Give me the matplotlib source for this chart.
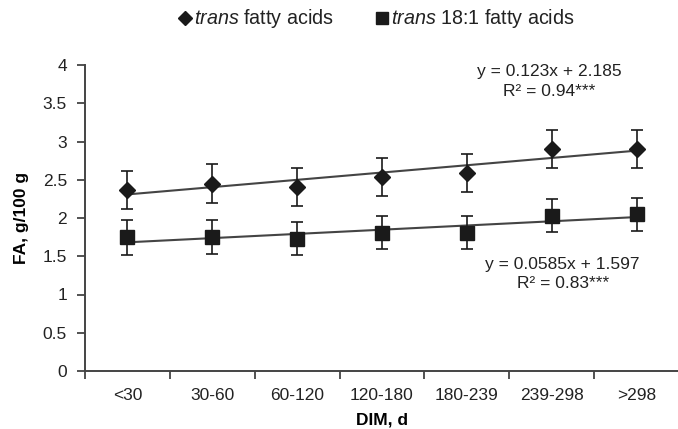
import numpy as np
import matplotlib
matplotlib.use("Agg")
import matplotlib.pyplot as plt
from matplotlib.lines import Line2D

plt.rcParams["font.family"] = ["Liberation Sans", "DejaVu Sans"]
plt.rcParams["mathtext.fontset"] = "custom"
plt.rcParams["mathtext.it"] = "Liberation Sans:italic"
plt.rcParams["mathtext.rm"] = "Liberation Sans"
plt.rcParams["text.color"] = "#222222"

# data
categories = ["<30", "30-60", "60-120", "120-180", "180-239", "239-298", ">298"]
trans_fa = [2.37, 2.45, 2.41, 2.54, 2.59, 2.90, 2.90]
trans_fa_err = [0.25, 0.26, 0.25, 0.25, 0.25, 0.245, 0.245]
trans181 = [1.75, 1.75, 1.73, 1.81, 1.81, 2.03, 2.05]
trans181_err = [0.23, 0.22, 0.22, 0.21, 0.21, 0.215, 0.215]

x = np.arange(1, len(categories) + 1)
fs = 12.5

fig = plt.figure(figsize=(6.78, 4.29), dpi=100)
ax = fig.add_axes([85 / 678, 58 / 429, 594 / 678, 306 / 429])

ax.errorbar(x, trans_fa, yerr=trans_fa_err, fmt="D", color="#1a1a1a", ms=8,
            capsize=4, elinewidth=1.2, capthick=1.2, zorder=3)
ax.errorbar(x, trans181, yerr=trans181_err, fmt="s", color="#1a1a1a", ms=10,
            capsize=4, elinewidth=1.2, capthick=1.2, zorder=3)

# linear trend lines
for ys in (trans_fa, trans181):
    k, b = np.polyfit(x, ys, 1)
    ax.plot(x, k * x + b, color="#444444", lw=1.5, zorder=2)

ax.text(5.97, 3.92, "y = 0.123x + 2.185", ha="center", va="center", fontsize=fs)
ax.text(5.97, 3.65, "R² = 0.94***", ha="center", va="center", fontsize=fs)
ax.text(6.13, 1.39, "y = 0.0585x + 1.597", ha="center", va="center", fontsize=fs)
ax.text(6.13, 1.15, "R² = 0.83***", ha="center", va="center", fontsize=fs)

ax.set_xlim(0.5, 7.5)
ax.set_ylim(0, 4)
ax.set_yticks(np.arange(0, 4.01, 0.5))
ax.set_yticklabels(["0", "0.5", "1", "1.5", "2", "2.5", "3", "3.5", "4"])
ax.set_xticks(np.arange(0.5, 7.6, 1))
ax.set_xticklabels([])
ax.set_xticks(x, minor=True)
ax.set_xticklabels(categories, minor=True)
ax.tick_params(axis="x", which="minor", length=0, pad=12, labelsize=fs, labelcolor="#222222")
ax.tick_params(axis="x", which="major", length=6, width=1.3, color="#444444")
ax.tick_params(axis="y", length=6, width=1.3, color="#444444", pad=7,
               labelsize=fs, labelcolor="#222222")

for s in ("top", "right"):
    ax.spines[s].set_visible(False)
for s in ("left", "bottom"):
    ax.spines[s].set_linewidth(1.4)
    ax.spines[s].set_color("#444444")

ax.set_xlabel("DIM, d", fontweight="bold", fontsize=fs, labelpad=7)
ax.set_ylabel("FA, g/100 g", fontweight="bold", fontsize=fs, labelpad=10)

handles = [
    Line2D([], [], marker="D", ls="none", color="#1a1a1a", ms=7),
    Line2D([], [], marker="s", ls="none", color="#1a1a1a", ms=8),
]
labels = [r"$\it{trans}$ fatty acids", r"$\it{trans}$ 18:1 fatty acids"]
fig.legend(handles, labels, loc="center", bbox_to_anchor=(375 / 678, 1 - 19 / 429), ncol=2,
           frameon=False, fontsize=14.2, handletextpad=0.0, columnspacing=2.0,
           handlelength=0.9, borderpad=0)

fig.savefig("out.png", dpi=100)
